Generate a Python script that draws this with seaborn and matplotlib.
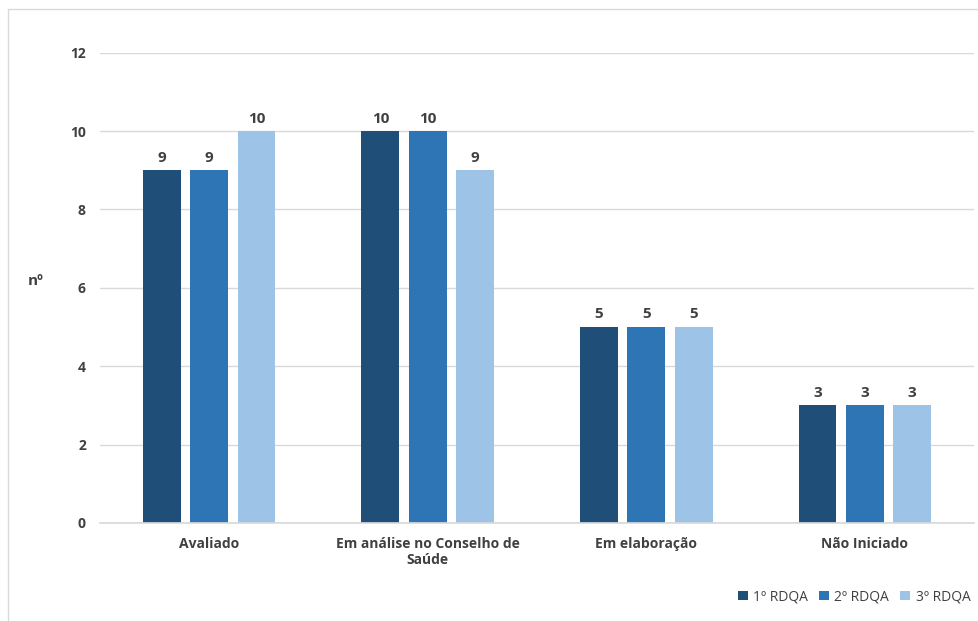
import matplotlib
matplotlib.use("Agg")
import matplotlib.pyplot as plt
import seaborn as sns
import pandas as pd

categories = ["Avaliado", "Em análise no Conselho de\nSaúde", "Em elaboração", "Não Iniciado"]
series = ["1º RDQA", "2º RDQA", "3º RDQA"]
rdqa1 = [9, 10, 5, 3]
rdqa2 = [9, 10, 5, 3]
rdqa3 = [10, 9, 5, 3]
colors = ["#1F4E79", "#2E75B6", "#9DC3E6"]

rows = []
for s, vals in zip(series, [rdqa1, rdqa2, rdqa3]):
    for c, v in zip(categories, vals):
        rows.append({"cat": c, "serie": s, "val": v})
df = pd.DataFrame(rows)

sns.set_theme(style="white")
plt.rcParams["font.family"] = ["Open Sans", "DejaVu Sans"]

fig = plt.figure(figsize=(9.79, 6.21), dpi=100)
ax = fig.add_axes([0.102, 0.158, 0.893, 0.757])
sns.barplot(data=df, x="cat", y="val", hue="serie", palette=colors,
            width=0.65, gap=0.2, ax=ax, saturation=1, linewidth=0)

for cont in ax.containers:
    ax.bar_label(cont, padding=4, fontsize=11, fontweight="bold", color="#404040")

ax.set_ylim(0, 12)
ax.set_yticks(range(0, 13, 2))
ax.yaxis.grid(True, color="#D9D9D9", linewidth=1)
ax.set_axisbelow(True)
for sp in ["top", "right", "left"]:
    ax.spines[sp].set_visible(False)
ax.spines["bottom"].set_color("#D9D9D9")
ax.tick_params(axis="both", length=0, labelsize=10, labelcolor="#404040", pad=10)
for t in ax.get_xticklabels() + ax.get_yticklabels():
    t.set_fontweight("bold")
ax.set_xlabel("")
ax.set_ylabel("nº", rotation=0, fontsize=11, fontweight="bold", color="#404040", labelpad=25)

ax.legend(loc="lower right", bbox_to_anchor=(1.01, -0.2), ncol=3, frameon=False,
          fontsize=10, handlelength=0.7, handleheight=0.7, columnspacing=0.8,
          handletextpad=0.4, labelcolor="#404040")

fig.add_artist(plt.Line2D([0.008, 0.008], [0, 0.985], color="#D9D9D9", lw=1))
fig.add_artist(plt.Line2D([0.008, 1], [0.985, 0.985], color="#D9D9D9", lw=1))

fig.savefig("out.png", dpi=100)
